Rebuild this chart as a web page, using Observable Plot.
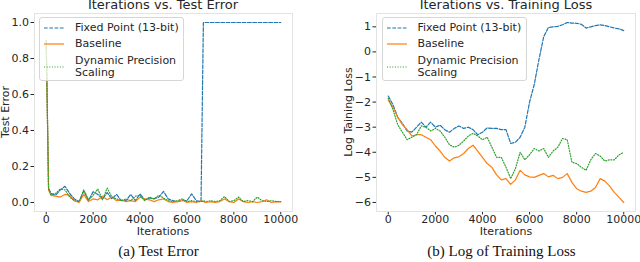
<!DOCTYPE html>
<html>
<head>
<meta charset="utf-8">
<script src="https://cdn.jsdelivr.net/npm/d3@7"></script>
<script src="https://cdn.jsdelivr.net/npm/@observablehq/plot@0.6"></script>
<style>
  html, body { margin: 0; padding: 0; background: #fff; overflow: hidden; }
  #wrap { position: relative; width: 640px; height: 262px; overflow: hidden; font-family: "DejaVu Sans", sans-serif; color: #262626; }
  .panel { position: absolute; top: 0; width: 320px; height: 240px; }
  .t { position: absolute; white-space: nowrap; color: #262626; }
  .title { font-size: 13px; line-height: 10px; transform: translateX(-50%); }
  .xlab { font-size: 11px; line-height: 11px; transform: translateX(-50%); }
  .ylab { font-size: 11px; line-height: 11px; transform: translate(-50%, -50%) rotate(-90deg); }
  .cap { font-family: "Liberation Serif", "Times New Roman", serif; font-size: 15px; line-height: 15px; transform: translateX(-50%); color: #111; }
  .legend { position: absolute; width: 145px; height: 64px; box-sizing: border-box; border: 1px solid #d6d6d6; border-radius: 3px; background: rgba(255,255,255,0.8); }
  .legend .lt { position: absolute; left: 35px; font-size: 11px; line-height: 11.7px; white-space: nowrap; color: #262626; }
  .legend svg { position: absolute; left: 4px; }
</style>
</head>
<body>
<div id="wrap"></div>
<script>
// ---------- data ----------
const seriesNames = ["Fixed Point (13-bit)", "Baseline", "Dynamic Precision Scaling"];
const seriesColors = ["#1f77b4", "#ff7f0e", "#2ca02c"];
const seriesDash = ["3.7,1.6", null, "1,1.65"];

const xTickValues = [0, 2000, 4000, 6000, 8000, 10000];
const testErrorTicks = [0.0, 0.2, 0.4, 0.6, 0.8, 1.0];
const lossTicks = [-6, -5, -4, -3, -2, -1, 0, 1];

// (a) Test error
const itersTest = [0,100,200,400,600,800,1000,1200,1400,1600,1800,2000,2200,2400,2600,2800,3000,3200,3400,3600,3800,4000,4200,4400,4600,4800,5000,5200,5400,5600,5800,6000,6200,6400,6600,6700,6800,7000,7200,7400,7600,7800,8000,8200,8400,8600,8800,9000,9200,9400,9600,9800,10000];
const testFixed = [0.9,0.08,0.05,0.04,0.07,0.09,0.05,0.02,0.005,0.065,0.01,0.06,0.045,0.02,0.055,0.02,0.045,0.01,0.01,0.045,0.01,0.048,0.015,0.025,0.02,0.03,0.062,0.02,0.01,0.005,0.01,0.01,0.048,0.01,0.005,1.0,1.0,1.0,1.0,1.0,1.0,1.0,1.0,1.0,1.0,1.0,1.0,1.0,1.0,1.0,1.0,1.0,1.0];
const testBaseline = [0.9,0.07,0.04,0.035,0.03,0.045,0.04,0.01,0.0,0.045,0.005,0.02,0.015,0.035,0.015,0.03,0.01,0.015,0.005,0.01,0.005,0.03,0.02,0.015,0.005,0.015,0.02,0.005,0.0,0.005,0.015,0.0,0.005,0.0,0.01,0.005,0.0,0.005,0.0,0.005,0.02,0.005,0.0,0.02,0.005,0.0,0.005,0.0,0.005,0.015,0.0,0.005,0.003];
const testDPS = [0.9,0.075,0.045,0.05,0.075,0.07,0.03,0.01,0.005,0.07,0.015,0.04,0.075,0.015,0.08,0.03,0.02,0.01,0.02,0.01,0.035,0.04,0.01,0.03,0.02,0.04,0.025,0.01,0.005,0.01,0.02,0.005,0.01,0.005,0.005,0.01,0.005,0.01,0.005,0.01,0.033,0.005,0.01,0.03,0.005,0.01,0.005,0.03,0.01,0.005,0.01,0.005,0.005];

// (b) Log of training loss
const itersLoss = [0,200,400,600,800,1000,1200,1400,1600,1800,2000,2200,2400,2600,2800,3000,3200,3400,3600,3800,4000,4200,4400,4600,4800,5000,5200,5400,5600,5800,6000,6200,6400,6600,6800,7000,7200,7400,7600,7800,8000,8200,8400,8600,8800,9000,9200,9400,9600,9800,10000];
const lossFixed = [-1.76,-2.1,-2.6,-2.85,-3.15,-3.2,-3.0,-2.8,-3.0,-2.8,-3.0,-2.92,-3.1,-3.2,-3.05,-2.95,-3.05,-3.0,-3.1,-3.3,-3.2,-3.03,-3.05,-3.05,-3.1,-3.1,-3.65,-3.6,-3.4,-3.0,-2.0,-1.3,-0.3,0.6,0.97,1.0,1.02,1.08,1.17,1.15,1.14,1.1,0.95,1.0,1.05,1.08,1.05,1.0,0.95,0.92,0.85];
const lossBaseline = [-1.92,-2.2,-2.6,-2.9,-3.1,-3.35,-3.3,-3.3,-3.4,-3.5,-3.75,-3.95,-4.2,-4.35,-4.22,-4.18,-4.05,-3.85,-3.72,-3.95,-4.2,-4.45,-4.6,-4.9,-5.1,-5.05,-5.28,-5.1,-4.72,-4.9,-4.98,-5.0,-4.92,-4.85,-4.98,-4.92,-5.05,-5.0,-4.85,-5.2,-5.45,-5.55,-5.6,-5.55,-5.4,-5.05,-5.15,-5.35,-5.6,-5.8,-6.0];
const lossDPS = [-1.85,-2.3,-2.9,-3.2,-3.5,-3.4,-3.3,-2.95,-3.0,-3.15,-3.05,-3.15,-3.4,-3.7,-3.8,-3.72,-3.55,-3.35,-3.25,-3.35,-3.5,-3.4,-3.8,-4.2,-4.2,-4.6,-5.05,-4.65,-4.0,-4.3,-4.1,-3.85,-3.95,-3.85,-4.2,-3.95,-3.8,-3.45,-3.5,-4.4,-4.45,-4.6,-4.72,-4.3,-4.05,-4.15,-4.35,-4.3,-4.3,-4.1,-4.0];

// ---------- build ----------
function rows(iters, vals) { return iters.map((x, i) => ({x, y: vals[i]})); }

function lineMarks(iters, seriesVals) {
  return seriesVals.map((vals, k) => Plot.line(rows(iters, vals), {
    x: "x", y: "y", stroke: seriesColors[k], strokeWidth: 1.2,
    strokeDasharray: seriesDash[k] || undefined
  }));
}

const baseStyle = {fontFamily: "DejaVu Sans", fontSize: "11px", color: "#262626", background: "transparent", overflow: "visible"};

const chartA = Plot.plot({
  width: 320, height: 240,
  marginLeft: 34, marginRight: 28, marginTop: 13, marginBottom: 29,
  style: baseStyle,
  x: {domain: [-500, 10500], ticks: xTickValues, tickFormat: d => String(d), tickSize: 3.5, tickPadding: 0.5, label: null, line: true},
  y: {domain: [-0.05, 1.05], ticks: testErrorTicks, tickFormat: d => d.toFixed(1), tickSize: 3.5, tickPadding: 2, label: null},
  marks: [
    Plot.frame({stroke: "#e3e3e3"}),
    ...lineMarks(itersTest, [testFixed, testBaseline, testDPS])
  ]
});

const chartB = Plot.plot({
  width: 320, height: 240,
  marginLeft: 56, marginRight: 5, marginTop: 13, marginBottom: 29,
  style: baseStyle,
  x: {domain: [-500, 10500], ticks: xTickValues, tickFormat: d => String(d), tickSize: 3.5, tickPadding: 0.5, label: null, line: true},
  y: {domain: [-6.36, 1.53], ticks: lossTicks, tickFormat: d => d < 0 ? "\u2212" + (-d) : String(d), tickSize: 3.5, tickPadding: 2, label: null},
  marks: [
    Plot.frame({stroke: "#e3e3e3"}),
    ...lineMarks(itersLoss, [lossFixed, lossBaseline, lossDPS])
  ]
});

const wrap = document.getElementById("wrap");
function panel(el, left) {
  const d = document.createElement("div");
  d.className = "panel"; d.style.left = left + "px";
  d.appendChild(el); wrap.appendChild(d);
}
panel(chartA, 0);
panel(chartB, 320);

function text(cls, str, left, top) {
  const d = document.createElement("div");
  d.className = "t " + cls; d.textContent = str;
  d.style.left = left + "px"; d.style.top = top + "px";
  wrap.appendChild(d); return d;
}
text("title", "Iterations vs. Test Error", 163, 0);
text("title", "Iterations vs. Training Loss", 506, 0);
text("xlab", "Iterations", 163, 226.3);
text("xlab", "Iterations", 506, 226.3);
text("ylab", "Test Error", 5, 112);
text("ylab", "Log Taining Loss", 348, 112);
text("cap", "(a) Test Error", 158.5, 244.4);
text("cap", "(b) Log of Training Loss", 501.5, 244.4);

function legend(left, top) {
  const box = document.createElement("div");
  box.className = "legend"; box.style.left = left + "px"; box.style.top = top + "px";
  const centers = [10, 26.3, 49];
  const labels = [[seriesNames[0]], [seriesNames[1]], ["Dynamic Precision", "Scaling"]];
  const textTops = [4, 20.3, 37];
  for (let k = 0; k < 3; k++) {
    const svg = document.createElementNS("http://www.w3.org/2000/svg", "svg");
    svg.setAttribute("width", 22); svg.setAttribute("height", 6);
    svg.style.top = (centers[k] - 3) + "px";
    const ln = document.createElementNS("http://www.w3.org/2000/svg", "line");
    ln.setAttribute("x1", 0); ln.setAttribute("x2", 20); ln.setAttribute("y1", 3); ln.setAttribute("y2", 3);
    ln.setAttribute("stroke", seriesColors[k]); ln.setAttribute("stroke-width", 1.2);
    if (seriesDash[k]) ln.setAttribute("stroke-dasharray", seriesDash[k]);
    svg.appendChild(ln); box.appendChild(svg);
    const t = document.createElement("div");
    t.className = "lt"; t.style.top = textTops[k] + "px";
    t.innerHTML = labels[k].join("<br>");
    box.appendChild(t);
  }
  wrap.appendChild(box);
}
legend(39, 17);
legend(381.5, 17);
</script>
</body>
</html>
